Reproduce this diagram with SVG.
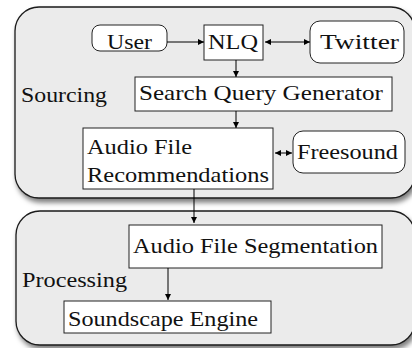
<svg xmlns="http://www.w3.org/2000/svg" width="412" height="348" viewBox="0 0 412 348">
<defs>
<filter id="sh" x="-10%" y="-10%" width="120%" height="130%">
<feDropShadow dx="2" dy="4" stdDeviation="2.5" flood-color="#000" flood-opacity="0.5"/>
</filter>
<marker id="ah" viewBox="0 0 10 10" refX="10" refY="5" markerWidth="6" markerHeight="6" markerUnits="userSpaceOnUse" orient="auto-start-reverse">
<path d="M0,0 L10,5 L0,10 z" fill="#000"/>
</marker>
<style>
.grp{fill:#ebebeb;stroke:#1a1a1a;stroke-width:1.3}
.box{fill:#fff;stroke:#222;stroke-width:1}
text{font-family:"Liberation Serif","Times New Roman","DejaVu Serif",serif;font-size:21px;fill:#111}
.c{stroke:#000;stroke-width:1;fill:none;marker-end:url(#ah)}
.cb{stroke:#000;stroke-width:1;fill:none;marker-end:url(#ah);marker-start:url(#ah)}
</style>
</defs>
<rect width="412" height="348" fill="#fff"/>
<g id="sourcing">
<rect class="grp" x="15" y="7" width="400" height="191" rx="24" filter="url(#sh)"/>
<text x="21" y="102" textLength="86" lengthAdjust="spacingAndGlyphs">Sourcing</text>
</g>
<g id="processing">
<rect class="grp" x="16" y="211" width="399" height="134" rx="24" filter="url(#sh)"/>
<text x="22" y="287" textLength="105" lengthAdjust="spacingAndGlyphs">Processing</text>
</g>
<g id="user">
<rect class="box" x="92" y="25" width="75" height="26" rx="8"/>
<text x="107" y="49" textLength="45" lengthAdjust="spacingAndGlyphs">User</text>
</g>
<g id="nlq">
<rect class="box" x="204" y="25" width="59" height="35"/>
<text x="208" y="49" textLength="50" lengthAdjust="spacingAndGlyphs">NLQ</text>
</g>
<g id="twitter">
<rect class="box" x="310" y="21" width="94" height="42" rx="10"/>
<text x="320" y="49" textLength="79" lengthAdjust="spacingAndGlyphs">Twitter</text>
</g>
<g id="sqg">
<rect class="box" x="135" y="77" width="257" height="34"/>
<text x="139" y="100" textLength="244" lengthAdjust="spacingAndGlyphs">Search Query Generator</text>
</g>
<g id="afr">
<rect class="box" x="83" y="128" width="190" height="61"/>
<text x="87" y="154" textLength="105" lengthAdjust="spacingAndGlyphs">Audio File</text>
<text x="87" y="182" textLength="182" lengthAdjust="spacingAndGlyphs">Recommendations</text>
</g>
<g id="freesound">
<rect class="box" x="293" y="131" width="112" height="42" rx="10"/>
<text x="297" y="159" textLength="101" lengthAdjust="spacingAndGlyphs">Freesound</text>
</g>
<g id="afs">
<rect class="box" x="129" y="225" width="253" height="43"/>
<text x="133" y="253" textLength="245" lengthAdjust="spacingAndGlyphs">Audio File Segmentation</text>
</g>
<g id="se">
<rect class="box" x="64" y="301" width="207" height="32"/>
<text x="68" y="326" textLength="190" lengthAdjust="spacingAndGlyphs">Soundscape Engine</text>
</g>
<g id="connectors">
<line class="c" x1="167" y1="42" x2="204" y2="42"/>
<line class="cb" x1="265" y1="42" x2="310" y2="42"/>
<line class="c" x1="236" y1="60" x2="236" y2="77"/>
<line class="c" x1="236" y1="111" x2="236" y2="128"/>
<line class="cb" x1="275" y1="153" x2="292" y2="153"/>
<line class="c" x1="194" y1="189" x2="194" y2="223"/>
<line class="c" x1="168" y1="268" x2="168" y2="300"/>
</g>
</svg>
